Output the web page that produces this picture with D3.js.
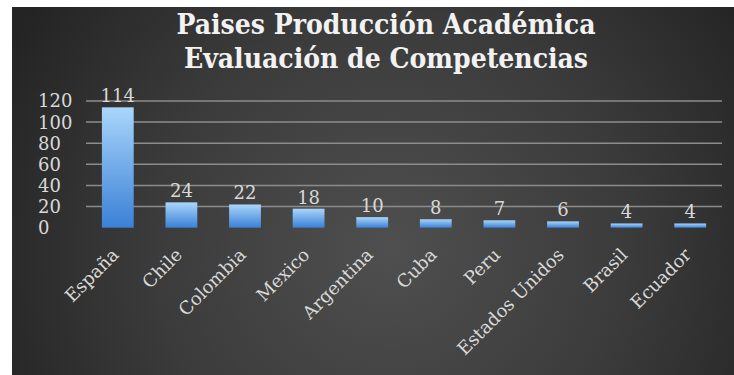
<!DOCTYPE html>
<html><head><meta charset="utf-8">
<script src="https://cdn.jsdelivr.net/npm/d3@7"></script>
<style>html,body{margin:0;padding:0;background:#fff;}svg{display:block;}</style>
</head><body><svg id="c" width="734" height="375"></svg>
<script>
const categories = ["España","Chile","Colombia","Mexico","Argentina","Cuba","Peru","Estados Unidos","Brasil","Ecuador"];
const values = [114,24,22,18,10,8,7,6,4,4];
const yTicks = [0,20,40,60,80,100,120];
const titleLines = ["Paises Producción Académica","Evaluación de Competencias"];

const svg = d3.select("#c");
const defs = svg.append("defs");
const bg = defs.append("radialGradient").attr("id","bg").attr("gradientUnits","userSpaceOnUse")
  .attr("cx",390).attr("cy",250).attr("r",430);
bg.append("stop").attr("offset","0").attr("stop-color","#4f4f4f");
bg.append("stop").attr("offset","0.55").attr("stop-color","#3b3b3b");
bg.append("stop").attr("offset","1").attr("stop-color","#242424");
const bar = defs.append("linearGradient").attr("id","bar").attr("x1",0).attr("y1",0).attr("x2",0).attr("y2",1);
bar.append("stop").attr("offset","0").attr("stop-color","#a9d6fb");
bar.append("stop").attr("offset","1").attr("stop-color","#3b80d6");

svg.append("rect").attr("x",12).attr("y",7).attr("width",722).attr("height",368).attr("fill","url(#bg)");

const x = d3.scaleBand().domain(categories).range([86,722]).paddingInner(0.5).paddingOuter(0.25);
const y = d3.scaleLinear().domain([0,120]).range([227.7,101]);

const serif = "DejaVu Serif, serif";

// gridlines
svg.append("g").selectAll("line").data(yTicks.filter(d=>d>0)).join("line")
  .attr("x1",86).attr("x2",722).attr("y1",d=>y(d)).attr("y2",d=>y(d))
  .attr("stroke","#8c8c8c").attr("stroke-width",1.5);

// y labels
svg.append("g").selectAll("text").data(yTicks).join("text")
  .attr("x",38).attr("y",d=>y(d)).attr("dy","0.36em")
  .attr("font-family",serif).attr("font-size",18)
  .attr("fill","#d9d9d9").text(d=>d);

// bars
svg.append("g").selectAll("rect").data(values).join("rect")
  .attr("x",(d,i)=>x(categories[i])).attr("width",x.bandwidth())
  .attr("y",d=>y(d)).attr("height",d=>y(0)-y(d)).attr("fill","url(#bar)");

// data labels
svg.append("g").selectAll("text").data(values).join("text")
  .attr("x",(d,i)=>x(categories[i])+x.bandwidth()/2).attr("y",d=>y(d)-5)
  .attr("text-anchor","middle")
  .attr("font-family",serif).attr("font-size",18)
  .attr("fill","#d9d9d9").text(d=>d);

// category labels
svg.append("g").selectAll("text").data(categories).join("text")
  .attr("transform",d=>`translate(${x(d)+x.bandwidth()/2+2},256) rotate(-45)`)
  .attr("text-anchor","end")
  .attr("font-family",serif).attr("font-size",18)
  .attr("fill","#d9d9d9").text(d=>d);

// title
svg.append("g").selectAll("text").data(titleLines).join("text")
  .attr("x",386).attr("y",(d,i)=>34+i*34).attr("text-anchor","middle")
  .attr("font-family","DejaVu Serif Condensed, DejaVu Serif, serif").attr("font-weight","bold")
  .attr("font-size",28).attr("fill","#f2f2f2").text(d=>d);
</script></body></html>
